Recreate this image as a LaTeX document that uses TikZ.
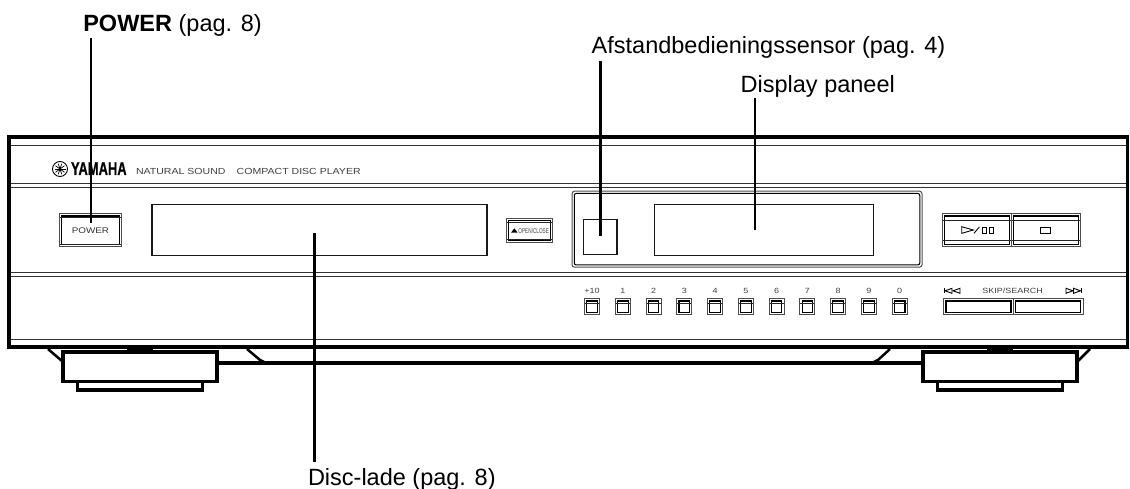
\documentclass[tikz,border=0pt]{standalone}
\usepackage{fontspec}
\setmainfont{Liberation Sans}
\newfontfamily\widefont[FakeStretch=1.2]{Liberation Sans}
\newfontfamily\narrowfont[FakeStretch=0.67]{Liberation Sans}
\newfontfamily\logofont[FakeStretch=0.7,BoldFeatures={FakeBold=0.6}]{Liberation Sans}
\usepackage{tikz}
\usetikzlibrary{positioning}

\begin{document}
\begin{tikzpicture}[
  x=1pt, y=-1pt,
  callout/.style={anchor=base west, inner sep=0pt, outer sep=0pt,
                  font=\fontsize{23.5}{26}\selectfont},
  leader/.style={draw, line width=2.4pt},
  frameline/.style={draw, line width=3.5pt},
  rule/.style={draw=black!80, line width=1pt},
  glyph/.style={draw=black, line width=0.9pt},
  print/.style={anchor=base west, inner sep=0pt, outer sep=0pt, text=black!75,
                font=\widefont\fontsize{8.8}{10}\selectfont},
  keylabel/.style={inner sep=0pt, outer sep=0pt, text=black!75,
                   font=\widefont\fontsize{7.5}{8}\selectfont},
  window/.style={draw=black!90, line width=1.1pt, inner sep=0pt, outer sep=0pt},
  panelkey/.style 2 args={draw=black!70, line width=1pt, inner sep=0pt, outer sep=0pt,
    path picture={
      \draw[black, line width=1.1pt] ([shift={(2.2pt,2.2pt)}]path picture bounding box.south west)
        rectangle ([shift={(-2.2pt,-2.2pt)}]path picture bounding box.north east);
      \draw[black!85, line width=0.9pt] ([yshift=-#1]path picture bounding box.north west)
        -- ([yshift=-#1]path picture bounding box.north east);
      \draw[black!85, line width=0.9pt] ([yshift=#2]path picture bounding box.south west)
        -- ([yshift=#2]path picture bounding box.south east);}},
  numkey/.style={panelkey={4.5pt}{0pt}, minimum width=15pt, minimum height=16pt},
  foot/.style={draw, line width=3.5pt, fill=white, inner sep=0pt, outer sep=0pt},
]
\useasboundingbox (0,0) rectangle (1130,489);

% body
\draw[rule] (9,146) -- (1127.5,146);
\draw[rule] (9,184) -- (1127.5,184);
\draw[rule] (9,187.5) -- (1127.5,187.5);
\draw[rule] (9,272.7) -- (1127.5,272.7);
\draw[rule] (9,276) -- (1127.5,276);
\draw[rule] (9,339) -- (1127.5,339);
\draw[frameline] (9,137) rectangle (1127.5,347);

% badge
\node[circle, draw=black, line width=0.9pt, minimum size=15pt, inner sep=0pt] (badge) at (60,169) {};
\foreach \ang in {0,36,...,144}
  \draw[black, line width=0.7pt] ([shift={(\ang:5.5pt)}]badge.center) -- ([shift={(\ang+180:5.5pt)}]badge.center);
\node[print, text=black, font=\logofont\bfseries\fontsize{18.5}{20}\selectfont] (brand) at (71,175) {YAMAHA};
\node[print] (natural) at (136,175) {NATURAL SOUND};
\node[print] (compact) at (236.7,175) {COMPACT DISC PLAYER};

% upper row
\node[panelkey={3.5pt}{2.8pt}, minimum width=61.7pt, minimum height=33pt, text=black!80,
      font=\widefont\fontsize{8.2}{9}\selectfont] (power) at (90.4,230.3) {POWER};
\node[window, minimum width=335pt, minimum height=51pt, right=30.7pt of power] (tray) {};
\node[panelkey={4pt}{3.2pt}, minimum width=46.3pt, minimum height=24pt, right=19.2pt of tray] (openclose) {};
\node[inner sep=0pt, text=black!75, font=\narrowfont\fontsize{7}{8}\selectfont] (opentext) at (533.7,230.5) {OPEN/CLOSE};
\fill (511,232.7) -- (514.3,228.3) -- (517.7,232.7) -- cycle;

\node[draw=black!70, line width=1pt, rounded corners=2.5pt, minimum width=350pt, minimum height=76pt,
      inner sep=0pt, outer sep=0pt] (panel) at (747,229.2) {};
\node[draw=black, line width=1pt, rounded corners=2pt, minimum width=345.5pt, minimum height=71.5pt,
      inner sep=0pt, outer sep=0pt] (panelinner) at (panel.center) {};
\node[window, minimum width=33.7pt, minimum height=34.7pt] (sensor) at (600.15,237.3) {};
\node[window, minimum width=219pt, minimum height=51pt] (display) at (763.8,229.8) {};

\node[panelkey={7pt}{6pt}, minimum width=69.2pt, minimum height=33pt] (play) at (977.1,230.3) {};
\node[panelkey={7pt}{6pt}, minimum width=69pt, minimum height=33pt, right=0pt of play] (stop) {};
\draw[glyph] (961.7,226.7) -- (973.3,230) -- (961.7,233.3) -- cycle;
\draw[glyph] (974,233.3) -- (979.3,227);
\draw[glyph] (982.7,227) rectangle (986.7,233.3);
\draw[glyph] (989.3,227) rectangle (993.3,233.3);
\draw[glyph] (1040.7,227) rectangle (1050,233.3);

% number keys
\node[numkey] (k10) at (592,306.8) {};
\node[numkey, right=15.77pt of k10] (k1) {};
\node[numkey, right=15.77pt of k1] (k2) {};
\node[numkey, right=15.77pt of k2] (k3) {};
\node[numkey, right=15.77pt of k3] (k4) {};
\node[numkey, right=15.77pt of k4] (k5) {};
\node[numkey, right=15.77pt of k5] (k6) {};
\node[numkey, right=15.77pt of k6] (k7) {};
\node[numkey, right=15.77pt of k7] (k8) {};
\node[numkey, right=15.77pt of k8] (k9) {};
\node[numkey, right=15.77pt of k9] (k0) {};
\node[keylabel, above=4.8pt of k10] (l10) {+10};
\node[keylabel, above=4.8pt of k1] (l1) {1};
\node[keylabel, above=4.8pt of k2] (l2) {2};
\node[keylabel, above=4.8pt of k3] (l3) {3};
\node[keylabel, above=4.8pt of k4] (l4) {4};
\node[keylabel, above=4.8pt of k5] (l5) {5};
\node[keylabel, above=4.8pt of k6] (l6) {6};
\node[keylabel, above=4.8pt of k7] (l7) {7};
\node[keylabel, above=4.8pt of k8] (l8) {8};
\node[keylabel, above=4.8pt of k9] (l9) {9};
\node[keylabel, above=4.8pt of k0] (l0) {0};

% skip keys
\node[panelkey={0pt}{0pt}, minimum width=69.4pt, minimum height=16pt] (skipback) at (978.5,306.8) {};
\node[panelkey={0pt}{0pt}, minimum width=69.8pt, minimum height=16pt, right=0pt of skipback] (skipnext) {};
\node[keylabel, anchor=base] (skiptext) at (1012.7,294) {SKIP/SEARCH};
\draw[glyph] (944.3,288.3) -- (944.3,293.3);
\draw[glyph] (952,288.3) -- (945,290.8) -- (952,293.3) -- cycle;
\draw[glyph] (960,288.3) -- (953,290.8) -- (960,293.3) -- cycle;
\draw[glyph] (1081.5,288.3) -- (1081.5,293.3);
\draw[glyph] (1073.5,288.3) -- (1080.5,290.8) -- (1073.5,293.3) -- cycle;
\draw[glyph] (1066,288.3) -- (1073,290.8) -- (1066,293.3) -- cycle;

% feet
\draw[frameline, line width=2.5pt] (48,349) -- (62,361);
\draw[frameline, line width=2.5pt] (247,349) -- (260,360) .. controls (263,362.5) and (266,363) .. (272,363);
\draw[frameline, line width=2.5pt] (890,349) -- (878,360) .. controls (875,362.5) and (872,363) .. (866,363);
\draw[frameline, line width=2.5pt] (1090,349) -- (1078,361);
\fill (127,346) rectangle (153,351);
\fill (987,346) rectangle (1013,351);
\node[foot, minimum width=125pt, minimum height=8.7pt] (padleft) at (140,385.85) {};
\node[foot, minimum width=153.6pt, minimum height=29.3pt] (footleft) at (140,366.85) {};
\node[foot, minimum width=125pt, minimum height=8.7pt] (padright) at (1000,385.85) {};
\node[foot, minimum width=153.6pt, minimum height=29.3pt] (footright) at (1000,366.85) {};
\draw[frameline] (footleft.east |- 0,363) -- (footright.west |- 0,363);

% callouts
\node[callout] (powerlabel) at (83.3,32) {\textbf{POWER} (pag. 8)};
\node[callout] (sensorlabel) at (591.7,53.3) {Afstandbedieningssensor (pag. 4)};
\node[callout] (displaylabel) at (740.7,92.3) {Display paneel};
\node[callout] (traylabel) at (308,485) {Disc-lade (pag. 8)};
\coordinate (powertip) at (90.7,223);
\coordinate (sensortip) at (600.3,235.7);
\coordinate (displaytip) at (755,230);
\coordinate (traytip) at (314.3,233);
\draw[leader, shorten <=1pt] (powerlabel.south -| powertip) -- (powertip);
\draw[leader, shorten <=2.7pt] (sensorlabel.south -| sensortip) -- (sensortip);
\draw[leader, shorten <=0.7pt] (displaylabel.south -| displaytip) -- (displaytip);
\draw[leader, shorten <=6pt] (traylabel.north -| traytip) -- (traytip);
\end{tikzpicture}
\end{document}
